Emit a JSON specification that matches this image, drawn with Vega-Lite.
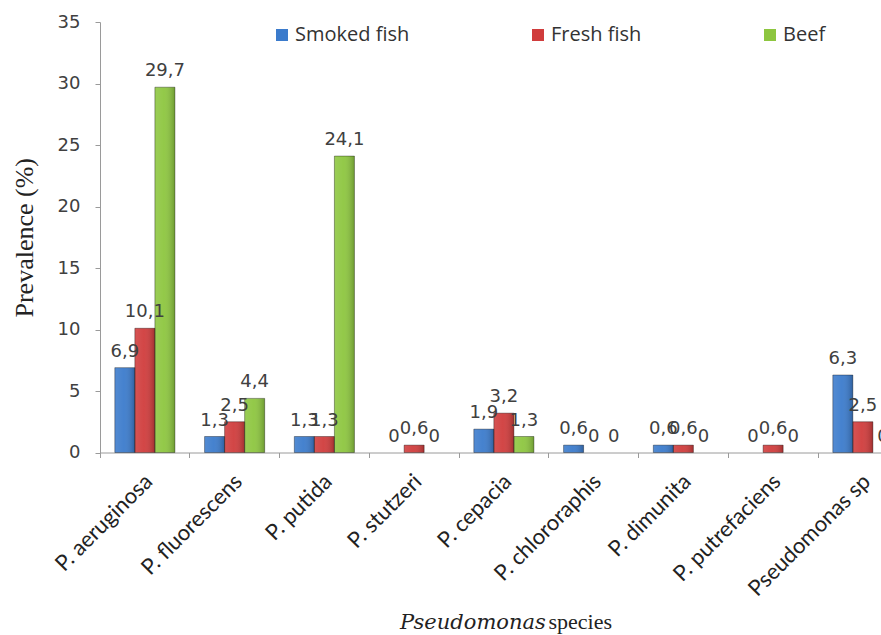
{
  "$schema": "https://vega.github.io/schema/vega-lite/v6.json",
  "width": 781,
  "height": 430.5,
  "autosize": {"type": "none"},
  "padding": {"left": 100, "top": 22, "right": 0, "bottom": 182.5},
  "background": "white",
  "title": {
    "text": "Pseudomonas",
    "orient": "bottom",
    "anchor": "start",
    "frame": "group",
    "font": "DejaVu Serif",
    "fontStyle": "italic",
    "fontWeight": "normal",
    "fontSize": 21,
    "color": "#222222",
    "dx": 300,
    "dy": -20,
    "offset": 0
  },
  "config": {
    "locale": {"number": {"decimal": ",", "thousands": ".", "grouping": [3], "currency": ["", ""]}},
    "view": {"stroke": null}
  },
  "data": {
    "values": [
      {"species": "P. aeruginosa", "source": "Smoked fish", "prevalence": 6.9},
      {"species": "P. aeruginosa", "source": "Fresh fish", "prevalence": 10.1},
      {"species": "P. aeruginosa", "source": "Beef", "prevalence": 29.7},
      {"species": "P. fluorescens", "source": "Smoked fish", "prevalence": 1.3},
      {"species": "P. fluorescens", "source": "Fresh fish", "prevalence": 2.5},
      {"species": "P. fluorescens", "source": "Beef", "prevalence": 4.4},
      {"species": "P. putida", "source": "Smoked fish", "prevalence": 1.3},
      {"species": "P. putida", "source": "Fresh fish", "prevalence": 1.3},
      {"species": "P. putida", "source": "Beef", "prevalence": 24.1},
      {"species": "P. stutzeri", "source": "Smoked fish", "prevalence": 0},
      {"species": "P. stutzeri", "source": "Fresh fish", "prevalence": 0.6},
      {"species": "P. stutzeri", "source": "Beef", "prevalence": 0},
      {"species": "P. cepacia", "source": "Smoked fish", "prevalence": 1.9},
      {"species": "P. cepacia", "source": "Fresh fish", "prevalence": 3.2},
      {"species": "P. cepacia", "source": "Beef", "prevalence": 1.3},
      {"species": "P. chlororaphis", "source": "Smoked fish", "prevalence": 0.6},
      {"species": "P. chlororaphis", "source": "Fresh fish", "prevalence": 0},
      {"species": "P. chlororaphis", "source": "Beef", "prevalence": 0},
      {"species": "P. dimunita", "source": "Smoked fish", "prevalence": 0.6},
      {"species": "P. dimunita", "source": "Fresh fish", "prevalence": 0.6},
      {"species": "P. dimunita", "source": "Beef", "prevalence": 0},
      {"species": "P. putrefaciens", "source": "Smoked fish", "prevalence": 0},
      {"species": "P. putrefaciens", "source": "Fresh fish", "prevalence": 0.6},
      {"species": "P. putrefaciens", "source": "Beef", "prevalence": 0},
      {"species": "Pseudomonas sp", "source": "Smoked fish", "prevalence": 6.3},
      {"species": "Pseudomonas sp", "source": "Fresh fish", "prevalence": 2.5},
      {"species": "Pseudomonas sp", "source": "Beef", "prevalence": 0}
    ]
  },
  "encoding": {
    "x": {
      "field": "species",
      "type": "nominal",
      "sort": null,
      "scale": {"type": "band", "range": [0, 807.75], "paddingInner": 0, "paddingOuter": 0},
      "axis": {
        "title": "species",
        "titleFont": "Liberation Serif",
        "titleFontSize": 22,
        "titleFontWeight": "normal",
        "titleColor": "#222222",
        "titleX": 448,
        "titleY": 175.5,
        "titleAlign": "left",
        "titleBaseline": "alphabetic",
        "bandPosition": 0,
        "labelAngle": -45,
        "labelAlign": "right",
        "labelBaseline": "middle",
        "labelPadding": 20,
        "labelOffset": 4,
        "labelFont": "Lato",
        "labelFontSize": 22,
        "labelColor": "#222222",
        "labelLimit": 300,
        "domainColor": "#9a9a9a",
        "tickColor": "#9a9a9a",
        "tickSize": 5,
        "grid": false
      }
    },
    "xOffset": {
      "field": "source",
      "type": "nominal",
      "sort": ["Smoked fish", "Fresh fish", "Beef"],
      "scale": {"paddingInner": 0, "paddingOuter": 0.74}
    },
    "y": {
      "field": "prevalence",
      "type": "quantitative",
      "scale": {"domain": [0, 35], "nice": false},
      "axis": {
        "title": "Prevalence (%)",
        "titleFont": "Liberation Serif",
        "titleFontSize": 26,
        "titleFontWeight": "normal",
        "titleColor": "#222222",
        "titlePadding": 20,
        "values": [0, 5, 10, 15, 20, 25, 30, 35],
        "labelFont": "DejaVu Sans",
        "labelFontSize": 18,
        "labelColor": "#404040",
        "labelPadding": 15,
        "domainColor": "#9a9a9a",
        "tickColor": "#9a9a9a",
        "tickSize": 5,
        "grid": false
      }
    }
  },
  "layer": [
    {
      "mark": {"type": "bar"},
      "encoding": {
        "color": {
          "field": "source",
          "type": "nominal",
          "sort": ["Smoked fish", "Fresh fish", "Beef"],
          "scale": {"domain": ["Smoked fish", "Fresh fish", "Beef"], "range": ["#3b7bcc", "#d03c3c", "#8dc63f"]},
          "legend": {
            "title": null,
            "orient": "none",
            "legendX": 172,
            "legendY": 3,
            "direction": "horizontal",
            "columns": 3,
            "gridAlign": "each",
            "columnPadding": 118,
            "symbolType": "square",
            "symbolSize": 144,
            "symbolStrokeWidth": 0,
            "labelFont": "Open Sans",
            "labelFontSize": 20,
            "labelColor": "#333333",
            "labelOffset": 3,
            "labelLimit": 300
          }
        }
      }
    },
    {
      "transform": [{"filter": "datum.prevalence > 0"}],
      "mark": {
        "type": "bar",
        "strokeWidth": 1,
        "stroke": "rgba(0,0,0,0.35)",
        "fill": {
          "gradient": "linear",
          "x1": 0, "y1": 0, "x2": 1, "y2": 0,
          "stops": [
            {"offset": 0, "color": "rgba(255,255,255,0.12)"},
            {"offset": 0.45, "color": "rgba(255,255,255,0.05)"},
            {"offset": 1, "color": "rgba(0,0,0,0.22)"}
          ]
        }
      },
      "encoding": {}
    },
    {
      "mark": {"type": "text", "baseline": "alphabetic", "dy": -11, "font": "DejaVu Sans", "fontSize": 18, "color": "#404040"},
      "encoding": {
        "text": {"field": "prevalence", "type": "quantitative", "format": ".1~f"}
      }
    }
  ]
}
